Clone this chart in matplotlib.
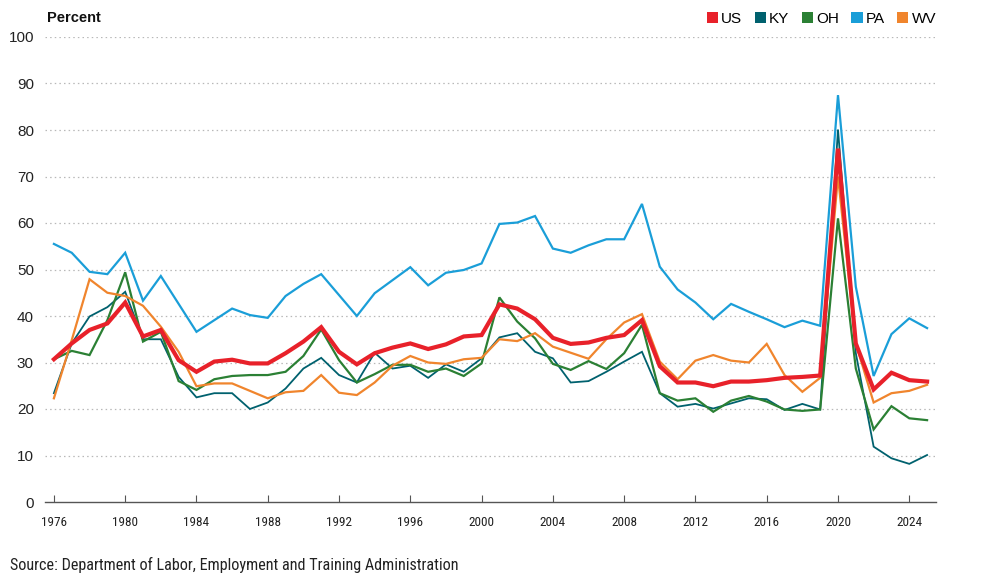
import matplotlib
matplotlib.use("Agg")
import matplotlib.pyplot as plt
from matplotlib.patches import Patch

years = list(range(1976, 2026))

us = [30.7, 34.1, 37.0, 38.4, 42.9, 35.6, 37.0, 30.5, 28.0, 30.2,
      30.6, 29.8, 29.8, 32.0, 34.5, 37.6, 32.3, 29.6, 32.0, 33.2,
      34.1, 32.9, 33.9, 35.6, 35.9, 42.5, 41.6, 39.3, 35.3, 34.0,
      34.3, 35.3, 35.9, 39.1, 29.2, 25.7, 25.7, 24.9, 25.9, 25.9,
      26.2, 26.7, 26.9, 27.2, 76.0, 34.1, 24.2, 27.8, 26.2, 25.9]
ky = [23.4, 34.1, 39.9, 41.9, 45.2, 35.0, 35.0, 26.9, 22.5, 23.4,
      23.4, 20.0, 21.4, 24.4, 28.7, 31.0, 27.3, 25.7, 32.1, 28.7,
      29.3, 26.7, 29.6, 28.0, 30.9, 35.4, 36.3, 32.3, 30.9, 25.7,
      26.0, 28.0, 30.2, 32.3, 23.4, 20.5, 21.1, 20.1, 21.2, 22.3,
      22.1, 19.8, 21.1, 19.9, 80.1, 32.0, 11.9, 9.4, 8.2, 10.1]
oh = [30.7, 32.5, 31.6, 39.1, 49.4, 34.5, 36.6, 26.0, 24.1, 26.4,
      27.1, 27.3, 27.3, 28.0, 31.4, 37.1, 30.5, 25.7, 27.5, 29.5,
      29.5, 28.0, 28.7, 27.1, 29.8, 44.0, 38.8, 35.2, 29.7, 28.4,
      30.3, 28.6, 32.0, 38.1, 23.4, 21.8, 22.3, 19.4, 21.8, 22.8,
      21.6, 19.9, 19.6, 19.9, 61.0, 28.7, 15.6, 20.6, 18.0, 17.6]
pa = [55.5, 53.6, 49.5, 49.0, 53.6, 43.3, 48.6, 42.6, 36.6, 39.1,
      41.6, 40.2, 39.6, 44.3, 46.9, 49.0, 44.5, 40.0, 44.9, 47.7,
      50.5, 46.6, 49.3, 49.9, 51.3, 59.8, 60.1, 61.5, 54.5, 53.6,
      55.2, 56.5, 56.5, 64.1, 50.6, 45.7, 42.9, 39.3, 42.6, 40.9,
      39.3, 37.6, 39.0, 37.9, 87.5, 46.3, 27.1, 36.1, 39.5, 37.4]
wv = [22.3, 34.8, 47.9, 45.0, 44.3, 42.2, 37.7, 32.3, 24.9, 25.5,
      25.5, 23.9, 22.3, 23.6, 23.9, 27.3, 23.5, 23.0, 25.7, 29.3,
      31.4, 30.0, 29.7, 30.7, 31.0, 35.0, 34.6, 36.3, 33.4, 32.1,
      30.8, 35.0, 38.6, 40.4, 30.2, 26.4, 30.4, 31.6, 30.4, 30.0,
      34.0, 27.3, 23.7, 26.7, 70.0, 34.1, 21.4, 23.4, 23.9, 25.2]

labels = ["US", "KY", "OH", "PA", "WV"]
colors = {"US": "#e8212a", "KY": "#00616e", "OH": "#2b8034",
          "PA": "#1a9ed8", "WV": "#f0852d"}
yticks = [0, 10, 20, 30, 40, 50, 60, 70, 80, 90, 100]
xticks = list(range(1976, 2025, 4))

narrow = ["Roboto Condensed", "DejaVu Sans"]
regular = ["Liberation Sans", "DejaVu Sans"]

fig = plt.figure(figsize=(9.91, 5.81), dpi=100)
ax = fig.add_axes([45 / 991, 1 - 502 / 581, (936 - 45) / 991, (502 - 37) / 581])

series = {"US": us, "KY": ky, "OH": oh, "PA": pa, "WV": wv}
widths = {"US": 3.0, "KY": 1.3, "OH": 1.6, "PA": 1.6, "WV": 1.6}
order = ["PA", "KY", "OH", "WV", "US"]
for i, k in enumerate(order):
    ax.plot(years, series[k], color=colors[k], lw=widths[k], zorder=3 + i,
            solid_joinstyle="miter", clip_on=False)

ax.set_xlim(1975.5, 2025.5)
ax.set_ylim(0, 100)
ax.set_yticks(yticks)
ax.set_xticks(xticks)
ax.set_yticklabels([str(v) for v in yticks], family=regular, fontsize=11, color="#222222")
ax.set_xticklabels([str(v) for v in xticks], family=narrow, fontsize=9.5, color="#222222")

for v in yticks[1:]:
    ax.axhline(v, color="#b8b8b8", lw=0.9, ls=(0, (1.2, 2.5)), zorder=1)

for s in ["top", "right", "left"]:
    ax.spines[s].set_visible(False)
ax.spines["bottom"].set_color("#555555")
ax.spines["bottom"].set_linewidth(1.0)
ax.tick_params(axis="y", length=0, pad=8)
ax.tick_params(axis="x", direction="in", length=5, width=0.8, color="#555555", pad=10)

fig.text(47 / 991, 1 - 18 / 581, "Percent", family=regular, fontsize=10.5,
         fontweight="bold", va="center", ha="left", color="#111111")

handles = [Patch(facecolor=colors[k], edgecolor="none") for k in labels]
leg = fig.legend(handles, labels, loc="center right", bbox_to_anchor=(936 / 991, 1 - 19 / 581),
                 ncol=5, frameon=False, handlelength=0.75, handleheight=0.75,
                 handletextpad=0.2, columnspacing=0.8, borderaxespad=0, borderpad=0,
                 prop={"family": regular, "size": 11})

fig.text(10 / 991, 1 - 565 / 581,
         "Source: Department of Labor, Employment and Training Administration",
         family=narrow, fontsize=11.6, va="center", ha="left", color="#222222")

fig.savefig("out.png", dpi=100)
